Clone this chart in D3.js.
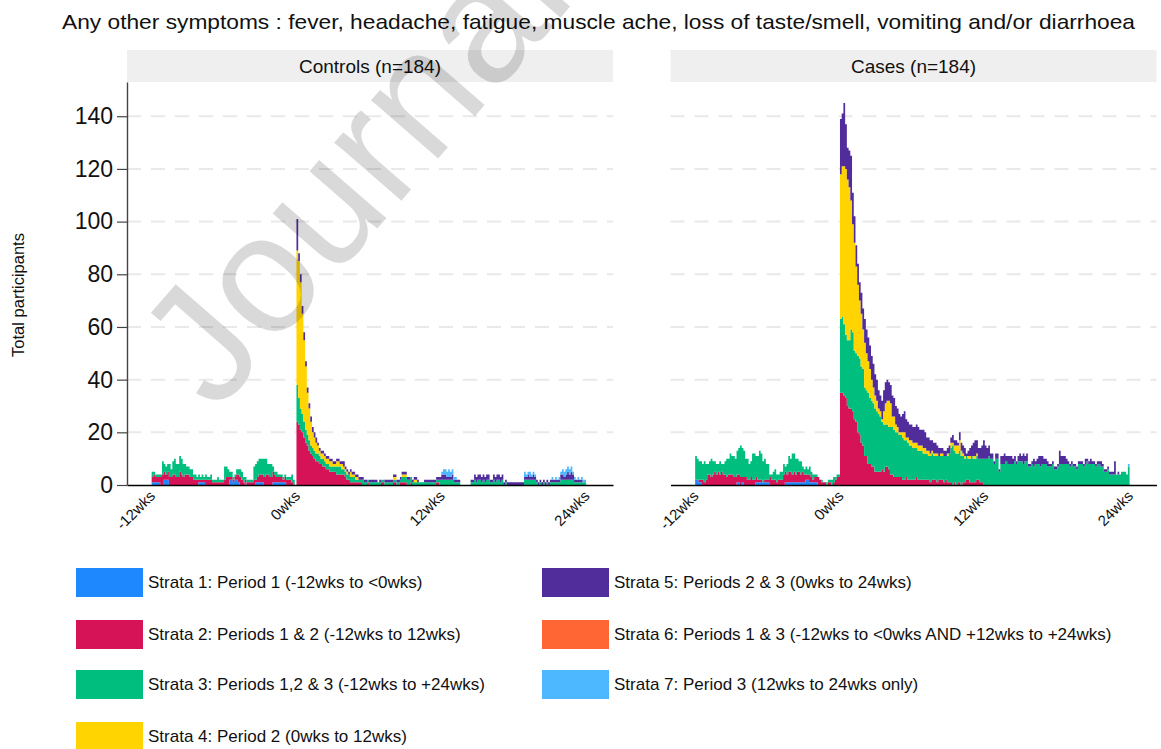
<!DOCTYPE html>
<html>
<head>
<meta charset="utf-8">
<script src="https://cdn.jsdelivr.net/npm/d3@7"></script>
<style>
  body { margin: 0; background: #fff; }
  text { font-family: "Liberation Sans", Arial, sans-serif; }
</style>
</head>
<body>
<div class="wrapper"></div>
<script>
// ---- data (daily counts of participants reporting symptoms) ----
var firstDay = -84, lastDay = 167;

var panelTitles = ["Controls (n=184)", "Cases (n=184)"];

var strataLabels = [
  "Strata 1: Period 1 (-12wks to <0wks)",
  "Strata 2: Periods 1 & 2 (-12wks to 12wks)",
  "Strata 3: Periods 1,2 & 3 (-12wks to +24wks)",
  "Strata 4: Period 2 (0wks to 12wks)",
  "Strata 5: Periods 2 & 3 (0wks to 24wks)",
  "Strata 6: Periods 1 & 3 (-12wks to <0wks AND +12wks to +24wks)",
  "Strata 7: Period 3 (12wks to 24wks only)"
];
var strataColors = ["#1e88ff", "#d71358", "#00bf7e", "#ffd400", "#512d9c", "#ff6633", "#4db8ff"];

// first day covered by each strata's array
var strataStart = [-84, -84, -84, 0, 0, -84, 84];

var weekTicks = [-84, 0, 84, 168];
var weekLabels = ["-12wks", "0wks", "12wks", "24wks"];
var yTicks = [0, 20, 40, 60, 80, 100, 120, 140];

// Controls
var controlsS1 = [1,1,1,1,1,0,0,2,2,2, 0,0,0,0,0,0,0,0,0,0, 0,0,0,0,0,0,0,1,1,1, 1,0,0,0,0,0,0,0,0,0,
  0,0,0,0,0,2,2,1,2,2, 1,0,0,0,1,0,0,0,0,0, 1,1,1,1,1,0,0,0,0,0, 1,1,1,1,1,1,1,1,0,0, 0,0,0,0];
var controlsS2 = [2,3,2,2,2,3,4,3,2,3, 3,3,4,4,3,3,5,4,3,4, 4,4,3,3,2,2,2,1,1,1, 1,2,2,2,2,1,1,1,1,1,
  1,1,2,3,3,1,1,1,1,2, 3,3,2,1,1,1,1,1,1,2, 1,2,3,3,3,3,4,4,3,3, 4,3,2,2,2,2,1,2,2,2, 2,1,0,0,
  24,23,21,20,18,16,15,13,12,11, 10,9,9,8,8,7,7,6,6,5, 5,5,5,4,4,4,4,4,3,2, 2,1,1,1,1,1,1,1,0,0,
  0,1,0,0,0,0,0,0,0,1, 1,0,0,0,0,0,1,1,0,0, 1,1,1,1,0,0,1,0,0,0, 0,0,0,0,0,0,0,0,0,0, 0,1,1,0];
var controlsS3 = [2,1,1,1,1,1,5,3,3,3, 5,3,5,6,5,5,6,6,5,4, 3,3,3,3,2,2,1,2,1,2, 1,2,1,1,2,1,1,1,2,1,
  1,1,5,4,3,2,2,1,1,2, 2,3,3,2,1,1,1,1,1,5, 6,6,6,6,6,7,6,4,5,5, 2,1,2,1,1,1,1,1,1,1, 1,3,2,0,
  14,10,8,7,6,5,4,4,3,3, 3,3,3,3,2,3,2,2,2,2, 2,2,2,3,3,3,2,2,2,2, 2,2,2,2,1,1,1,1,2,1,
  1,1,1,1,1,1,1,1,1,1, 1,1,1,1,1,1,1,1,1,1, 1,2,2,2,2,2,2,1,1,1, 1,1,1,1,1,1,1,1,1,1, 1,1,1,2,
  2,2,2,2,2,2,2,1,1,1, 1,0,0,0,0,0,0,1,1,2, 1,2,2,1,2,1,2,2,1,1, 2,1,2,2,1,2,0,1,0,0,
  0,0,0,0,0,0,0,0,2,2, 2,2,2,2,2,1,0,1,0,1, 0,1,0,1,1,1,1,1,1,2, 2,2,2,2,2,2,2,1,1,1, 1,1,1,1];
var controlsS4 = [51,52,48,38,31,24,16,12,9,6, 5,4,3,2,2,2,2,2,2,2, 2,1,1,2,2,1,2,1,1,1, 0,2,1,1,1,1,0,0,0,0,
  0,0,0,0,0,0,0,0,0,0, 0,0,0,0,0,0,1,1,0,0, 0,1,1,1,0,0,0,0,1,1, 0,0,0,0,0,0,0,0,0,0, 0,0,0,0];
var controlsS5 = [12,3,3,3,3,2,2,2,2,2, 2,2,1,1,1,1,1,1,1,1, 1,1,1,1,1,1,1,2,1,1, 1,1,1,1,1,1,1,1,1,1,
  1,0,1,1,1,1,1,0,1,0, 0,1,1,1,1,1,1,1,1,1, 1,1,1,1,1,1,0,1,1,1, 1,0,0,0,1,1,1,1,1,1, 1,1,1,1,
  2,2,2,1,1,1,2,1,1,1, 1,0,0,0,0,0,0,1,1,2, 2,2,2,2,2,2,2,2,1,1, 2,2,2,2,2,2,1,1,1,1,
  1,1,1,1,1,1,1,1,1,1, 2,1,1,2,1,1,1,1,1,1, 1,1,1,1,1,1,1,1,1,2, 2,1,2,3,2,3,2,1,1,1, 1,1,0,0];
var controlsS6 = [];
var controlsS7 = [1,2,2,2,3,2,2,1,1,0, 0,0,0,0,0,0,0,0,0,0, 0,0,0,0,0,0,0,0,0,0, 0,0,0,0,0,0,0,0,0,0,
  0,0,0,0,0,0,0,0,2,1, 1,2,1,1,1,0,0,0,0,0, 0,0,0,0,1,0,1,0,1,1, 2,2,2,2,2,2,1,1,0,1, 0,1,1,1];

// Cases
var casesS1 = [2,2,1,1,0,0,0,0,0,0, 0,0,0,0,0,0,0,0,0,0, 0,0,0,0,1,1,0,1,0,0, 0,0,0,0,0,1,1,1,1,1,
  1,1,1,0,0,0,0,0,0,0, 0,0,1,1,1,1,1,1,1,1, 1,1,1,1,2,2,1,1,1,1, 1,0,0,0,0,0,0,0,0,0, 0,0,0,0];
var casesS2 = [0,0,1,1,2,1,2,4,4,3, 4,5,4,5,4,5,4,4,3,4, 4,4,3,3,3,3,3,2,3,3, 2,2,3,2,2,2,1,1,1,0,
  1,1,1,3,2,2,2,1,2,2, 2,4,4,3,4,4,3,4,3,4, 4,3,4,3,2,2,3,2,1,2, 2,3,2,1,1,1,0,1,1,0, 1,2,3,3,
  35,35,34,33,30,29,29,28,25,24, 20,19,16,15,11,11,8,8,7,7, 5,5,5,5,6,5,7,7,6,4, 4,3,3,3,3,3,2,2,3,2,
  2,2,2,2,3,2,2,2,2,2, 2,2,1,2,2,2,1,2,2,2, 1,2,1,1,1,0,1,0,1,1, 0,1,1,2,2,1,1,1,1,2, 2,1,1,0];
var casesS3 = [9,8,7,7,6,8,6,4,5,7, 5,4,4,3,5,3,4,5,7,6, 8,7,8,7,9,10,12,11,10,7, 8,6,6,10,10,8,9,11,10,8,
  8,6,6,1,2,3,4,3,2,3, 3,4,2,4,6,5,8,7,6,5, 4,5,2,2,3,2,3,2,2,1, 1,0,0,1,0,0,1,1,1,2, 2,1,1,1,
  28,29,27,24,25,26,30,30,26,26, 29,29,29,29,26,25,27,25,25,24, 24,23,22,21,18,18,16,16,16,18,
  18,18,17,17,16,16,16,15,14,14, 13,13,12,12,11,11,11,11,10,10, 10,9,10,10,9,9,10,9,9,9,
  10,9,10,11,13,15,12,12,11,12, 11,10,9,9,8,9,10,9,9,9, 8,9,9,10,
  10,10,11,10,10,8,10,10,5,8, 8,8,9,8,8,8,8,9,8,9, 9,9,8,9,9,7,7,8,7,8, 8,8,7,8,8,8,7,7,7,8,
  6,6,7,8,8,8,8,8,8,7, 8,7,7,6,8,8,8,7,8,9, 8,8,8,8,7,8,8,7,7,5, 5,6,4,4,4,4,4,4,4,5, 5,5,4,7];
var casesS4 = [55,57,60,63,61,58,49,41,41,33, 27,22,20,15,17,14,12,11,8,6, 5,4,2,2,1,5,8,9,10,9,
  4,5,3,2,1,1,2,3,1,2, 2,2,2,2,2,2,2,2,2,2, 1,2,1,1,1,1,1,0,1,1, 0,0,1,0,2,1,2,3,3,4,
  2,1,1,0,1,1,0,1,1,1, 0,0,0,0];
var casesS5 = [21,20,24,17,12,14,17,12,10,8, 8,7,8,8,9,9,9,9,9,9, 8,8,7,6,7,8,8,8,7,7, 8,7,7,7,7,6,7,8,7,6,
  6,6,6,6,7,7,6,6,7,6, 5,5,5,4,4,4,3,3,2,2, 2,2,2,3,2,3,2,2,1,3, 3,3,3,1,2,3,4,5,6,5, 4,4,5,7,
  5,4,4,2,2,1,2,2,1,3, 3,4,2,3,3,3,2,2,1,2, 3,2,4,2,3,1,1,1,3,1, 2,3,4,3,2,2,2,1,1,1,
  1,1,1,5,3,3,3,2,1,1, 1,1,1,1,1,1,1,1,2,1, 1,2,1,1,1,1,1,2,1,1, 1,1,1,1,1,5,0,1,0,0, 0,0,0,0];
var casesS6 = [];
var casesS7 = [0,0,0,0,0,0,0,0,0,0, 0,0,0,0,0,0,0,0,0,0, 0,0,0,0,0,0,0,0,0,0, 0,0,0,0,0,0,0,0,0,0,
  0,0,0,0,0,0,0,0,0,0, 0,0,0,0,0,0,0,0,0,0, 0,0,0,0,0,0,0,0,0,0, 0,0,0,0,0,0,0,0,0,0, 0,0,0,1];

var panelSeries = [
  [controlsS1, controlsS2, controlsS3, controlsS4, controlsS5, controlsS6, controlsS7],
  [casesS1, casesS2, casesS3, casesS4, casesS5, casesS6, casesS7]
];

// ---- layout ----
var width = 1161, height = 749;
var panelLefts = [127, 670.5], panelWidth = 486;
var plotTop = 82, plotBottom = 485;
var keys = strataLabels.map(function(d, i) { return "s" + (i + 1); });

var svg = d3.select(".wrapper")
  .append("svg")
    .attr("width", width)
    .attr("height", height);

var x = d3.scaleLinear().domain([-98.3, 183.6]).range([0, panelWidth]);
var y = d3.scaleLinear().domain([0, 153]).range([plotBottom, plotTop]);
var color = d3.scaleOrdinal().domain(keys).range(strataColors);

// one row per day, plus a closing row so the last day gets its width
function toRows(series) {
  return d3.range(firstDay, lastDay + 2).map(function(day) {
    var row = {day: day};
    series.forEach(function(arr, i) {
      var v = arr[Math.min(day, lastDay) - strataStart[i]];
      row[keys[i]] = v || 0;
    });
    return row;
  });
}

var stack = d3.stack().keys(keys);
var area = d3.area()
  .curve(d3.curveStepAfter)
  .x(function(d) { return x(d.data.day); })
  .y0(function(d) { return y(d[0]); })
  .y1(function(d) { return y(d[1]); });

// title
svg.append("text")
  .attr("x", 62).attr("y", 29)
  .attr("textLength", 1073)
  .attr("lengthAdjust", "spacingAndGlyphs")
  .style("font-size", "21px")
  .attr("fill", "#111")
  .text("Any other symptoms : fever, headache, fatigue, muscle ache, loss of taste/smell, vomiting and/or diarrhoea");

// y title
svg.append("text")
  .attr("transform", "translate(24,295) rotate(-90)")
  .attr("text-anchor", "middle")
  .style("font-size", "16.5px")
  .attr("fill", "#111")
  .text("Total participants");

panelSeries.forEach(function(series, p) {
  var g = svg.append("g")
    .attr("transform", "translate(" + panelLefts[p] + ",0)");

  // strip
  g.append("rect")
    .attr("x", 0).attr("y", 50)
    .attr("width", panelWidth).attr("height", 32)
    .attr("fill", "#efefef");
  g.append("text")
    .attr("x", panelWidth / 2).attr("y", 73)
    .attr("text-anchor", "middle")
    .style("font-size", "19px")
    .attr("fill", "#111")
    .text(panelTitles[p]);

  // grid
  g.selectAll(".grid")
    .data(yTicks.slice(1))
    .enter().append("line")
      .attr("x1", 0).attr("x2", panelWidth)
      .attr("y1", function(d) { return y(d); })
      .attr("y2", function(d) { return y(d); })
      .attr("stroke", "#e9e9e9")
      .attr("stroke-width", 2)
      .attr("stroke-dasharray", "14,10");

  // stacked daily areas
  g.selectAll(".layer")
    .data(stack(toRows(series)))
    .enter().append("path")
      .attr("fill", function(d) { return color(d.key); })
      .attr("d", area);

  // x axis
  var xAxis = g.append("g")
    .attr("transform", "translate(0," + plotBottom + ")")
    .call(d3.axisBottom(x).tickValues(weekTicks).tickSize(0).tickSizeOuter(0)
      .tickFormat(function(d, i) { return weekLabels[i]; }));
  xAxis.select(".domain").attr("stroke", "#000").attr("stroke-width", 1.6);
  xAxis.selectAll("text")
    .attr("fill", "#111")
    .style("font-size", "15px")
    .style("font-family", "'Liberation Sans', Arial, sans-serif")
    .attr("text-anchor", "end")
    .attr("dy", null)
    .attr("y", 0)
    .attr("transform", "translate(4,12) rotate(-45)");

  // y axis only on the first panel
  if (p === 0) {
    var yAxis = g.append("g")
      .call(d3.axisLeft(y).tickValues(yTicks).tickSize(10).tickSizeOuter(0).tickPadding(4));
    yAxis.select(".domain").attr("stroke", "#444").attr("stroke-width", 1.4);
    yAxis.selectAll(".tick line").attr("stroke", "#444").attr("stroke-width", 1.2);
    yAxis.selectAll("text")
      .attr("fill", "#111")
      .style("font-size", "23px")
      .style("font-family", "'Liberation Sans', Arial, sans-serif");
  }
});

// legend
var legendPos = [
  [76, 568], [76, 620], [76, 670], [76, 722],
  [542, 568], [542, 620], [542, 670]
];
var legend = svg.selectAll(".legend")
  .data(strataLabels)
  .enter().append("g")
    .attr("transform", function(d, i) { return "translate(" + legendPos[i][0] + "," + legendPos[i][1] + ")"; });
legend.append("rect")
  .attr("width", 67).attr("height", 29)
  .attr("fill", function(d, i) { return strataColors[i]; });
legend.append("text")
  .attr("x", 72).attr("y", 20)
  .style("font-size", "17px")
  .attr("fill", "#111")
  .text(function(d) { return d; });

// watermark
svg.append("text")
  .attr("transform", "translate(216,414) rotate(-49)")
  .style("font-size", "168px")
  .attr("fill", "#000")
  .attr("fill-opacity", 0.15)
  .text("Journal");
</script>
</body>
</html>
